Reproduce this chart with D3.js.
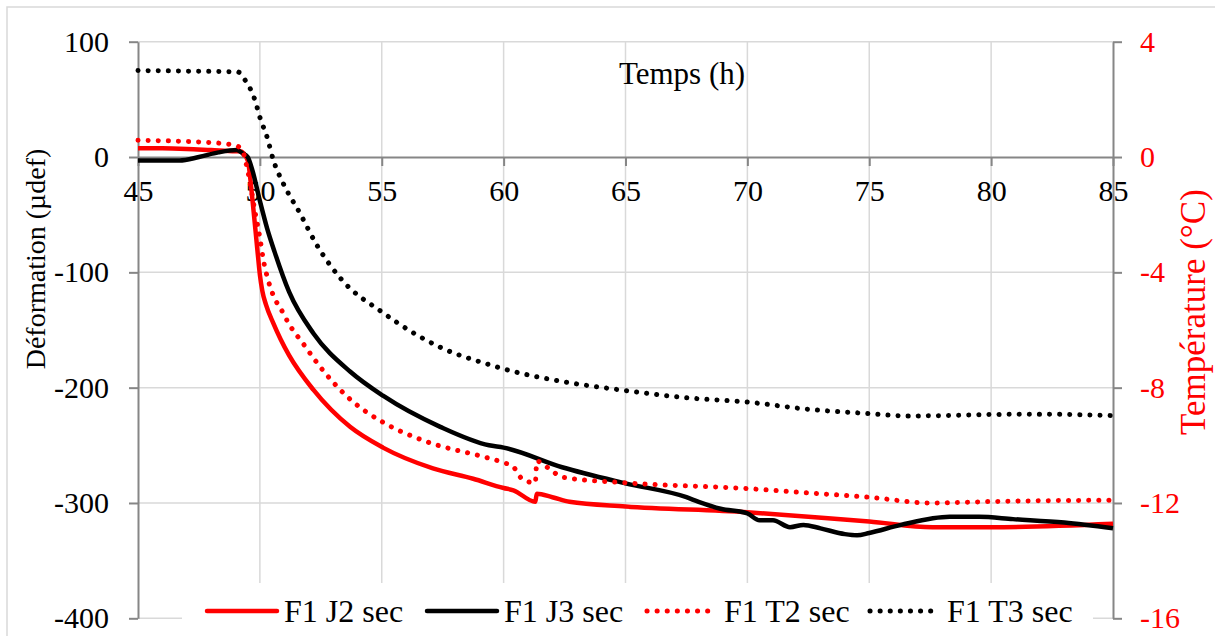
<!DOCTYPE html>
<html><head><meta charset="utf-8">
<script src="https://cdn.jsdelivr.net/npm/d3@7"></script>
<style>body{margin:0;background:#fff}svg{display:block}text{font-family:'Liberation Serif','Times New Roman',serif}</style>
</head><body>
<svg id="c" width="1215" height="636"></svg>
<script>
// ---- data ----
const xTicks = [45, 50, 55, 60, 65, 70, 75, 80, 85];
const leftTicks = [100, 0, -100, -200, -300, -400];
const rightTicks = [4, 0, -4, -8, -12, -16];

const j2Hours = [45, 46, 47, 48, 49, 49.2, 49.5, 49.7, 49.9, 50.0, 50.1, 50.25, 50.55, 50.85, 51.2, 52.2, 53.7, 55.05, 57.1, 58.75, 60, 60.4, 61.3, 61.36, 62.0, 62.7, 65, 70, 72.5, 75, 77.6, 80, 85];
const j2Vals  = [7.5, 7.5, 7, 6, 5, 5, -3, -38, -81, -102, -116, -128, -144, -158, -172, -202, -234, -252, -270, -279, -287, -289, -299, -292, -295, -299, -303, -308, -312, -316, -321, -321, -318];

const j3Hours = [45, 46, 46.7, 47.5, 48.3, 49.05, 49.3, 49.5, 49.7, 50.0, 50.3, 50.6, 51.2, 52.2, 53.7, 55.05, 57.4, 59.4, 60, 62.4, 65, 67.5, 68, 68.9, 70, 70.5, 71.05, 71.75, 72.3, 73, 74, 74.5, 75, 76.3, 78.3, 79.5, 80.9, 83, 85];
const j3Vals  = [-3, -3, -3, 0, 4, 6, 3, 0, -12, -38, -62, -82, -117, -153, -186, -207, -234, -250, -252, -269, -283, -295, -299, -305, -309, -315, -315, -321, -319, -322, -327, -328, -326, -319, -312, -312, -314, -317, -322];

const t2Hours = [45, 48, 49, 49.3, 49.4, 49.6, 49.8, 50.0, 50.15, 50.35, 50.6, 50.85, 51.2, 51.8, 52.4, 53.7, 55.05, 56.6, 59.4, 60, 60.4, 60.8, 61.3, 61.36, 62.0, 62.4, 65, 70, 72.5, 75, 77.5, 80, 85];
const t2Vals  = [0.58, 0.5, 0.4, 0.2, -0.1, -0.9, -1.9, -2.8, -3.6, -4.3, -4.9, -5.25, -5.8, -6.5, -7.2, -8.4, -9.2, -9.8, -10.45, -10.6, -10.75, -11.2, -11.3, -10.55, -10.9, -11.1, -11.3, -11.5, -11.65, -11.8, -12.0, -11.95, -11.9];

const t3Hours = [45, 47, 49.1, 49.4, 49.8, 50, 50.3, 50.55, 50.95, 51.65, 52.3, 53.3, 55.05, 57.4, 59.4, 60, 62.5, 65, 67.5, 70, 72.5, 75, 76.5, 78, 80, 82, 85];
const t3Vals  = [3.0, 2.98, 2.95, 2.66, 1.97, 1.38, 0.68, -0.1, -0.9, -1.96, -3.0, -4.2, -5.4, -6.6, -7.2, -7.35, -7.8, -8.1, -8.35, -8.5, -8.75, -8.9, -8.98, -8.97, -8.93, -8.92, -8.97];

const seriesNames = ["F1 J2 sec", "F1 J3 sec", "F1 T2 sec", "F1 T3 sec"];

// ---- chart ----
const svg = d3.select("#c");
const font = "'Liberation Serif','Times New Roman',serif";
const L = 138, R = 1113, T = 41.7, B = 618.3;
const x = d3.scaleLinear().domain([45, 85]).range([L, R]);
const yL = d3.scaleLinear().domain([-400, 100]).range([B, T]);
const yR = d3.scaleLinear().domain([-16, 4]).range([B, T]);
const grid = "#d9d9d9", axisCol = "#868686";

svg.append("rect").attr("x", 7).attr("y", 7).attr("width", 1230).attr("height", 650)
  .attr("fill", "#fff").attr("stroke", grid).attr("stroke-width", 1.5);

// gridlines
svg.append("g").selectAll("line").data(leftTicks.filter(d => d !== 0)).join("line")
  .attr("x1", L).attr("x2", R).attr("y1", d => yL(d)).attr("y2", d => yL(d))
  .attr("stroke", grid).attr("stroke-width", 1.5);
svg.append("g").selectAll("line").data(xTicks.filter(d => d !== 45 && d !== 85)).join("line")
  .attr("x1", d => x(d)).attr("x2", d => x(d)).attr("y1", T).attr("y2", B)
  .attr("stroke", grid).attr("stroke-width", 1.5);

// axes
function styleAxis(g, col) {
  g.attr("font-family", null);
  g.select(".domain").attr("stroke", axisCol).attr("stroke-width", 2);
  g.selectAll(".tick line").attr("stroke", axisCol).attr("stroke-width", 2);
  g.selectAll(".tick text").style("font-family", font).style("font-size", "30px").attr("fill", col);
}
const fmt = d => String(d);
const gx = svg.append("g").attr("transform", `translate(0,${yL(0)})`)
  .call(d3.axisBottom(x).tickValues(xTicks).tickSize(9).tickSizeOuter(0).tickPadding(8).tickFormat(fmt));
styleAxis(gx, "#000");
gx.selectAll(".tick text").attr("dy", "0.9em");

const gl = svg.append("g").attr("transform", `translate(${L},0)`)
  .call(d3.axisLeft(yL).tickValues(leftTicks).tickSize(9).tickSizeOuter(0).tickPadding(20).tickFormat(fmt));
styleAxis(gl, "#000");
const gr = svg.append("g").attr("transform", `translate(${R},0)`)
  .call(d3.axisRight(yR).tickValues(rightTicks).tickSize(9).tickSizeOuter(0).tickPadding(18).tickFormat(fmt));
styleAxis(gr, "#ff0000");

// titles
svg.append("text").attr("x", 682).attr("y", 84).attr("text-anchor", "middle")
  .style("font-size", "31px").text("Temps (h)");
svg.append("text").attr("transform", "translate(45,259) rotate(-90)").attr("text-anchor", "middle")
  .style("font-size", "28px").text("Déformation (µdef)");
svg.append("text").attr("transform", "translate(1205,312) rotate(-90)").attr("text-anchor", "middle")
  .style("font-size", "35px").attr("fill", "#ff0000").text("Température (°C)");

// series
const lineL = d3.line().x(d => x(d[0])).y(d => yL(d[1])).curve(d3.curveMonotoneX);
const lineR = d3.line().x(d => x(d[0])).y(d => yR(d[1])).curve(d3.curveMonotoneX);
const zip = (a, b) => a.map((h, i) => [h, b[i]]);
const series = [
  {d: lineL(zip(j2Hours, j2Vals)), c: "#ff0000", dash: null},
  {d: lineL(zip(j3Hours, j3Vals)), c: "#000000", dash: null},
  {d: lineR(zip(t2Hours, t2Vals)), c: "#ff0000", dash: "0.1 10"},
  {d: lineR(zip(t3Hours, t3Vals)), c: "#000000", dash: "0.1 10"}
];
svg.append("g").selectAll("path").data(series).join("path")
  .attr("d", s => s.d).attr("fill", "none").attr("stroke", s => s.c)
  .attr("stroke-width", s => s.dash ? 5 : 4.5)
  .attr("stroke-dasharray", s => s.dash)
  .attr("stroke-linecap", s => s.dash ? "round" : "butt")
  .attr("stroke-linejoin", "round");

// legend
const lg = svg.append("g");
lg.append("rect").attr("x", 182).attr("y", 583).attr("width", 911).attr("height", 60).attr("fill", "#fff");
const legendX = [207, 427, 647, 870];
const items = lg.selectAll("g").data(seriesNames).join("g")
  .attr("transform", (d, i) => `translate(${legendX[i]},611)`);
items.append("line").attr("x1", 0).attr("x2", 70).attr("y1", 0).attr("y2", 0)
  .attr("stroke", (d, i) => series[i].c).attr("stroke-width", (d, i) => series[i].dash ? 5 : 4.5)
  .attr("stroke-dasharray", (d, i) => series[i].dash).attr("stroke-linecap", "round");
items.append("text").attr("x", 77).attr("y", 11).style("font-size", "32px")
  .text(d => d);
</script>
</body></html>
